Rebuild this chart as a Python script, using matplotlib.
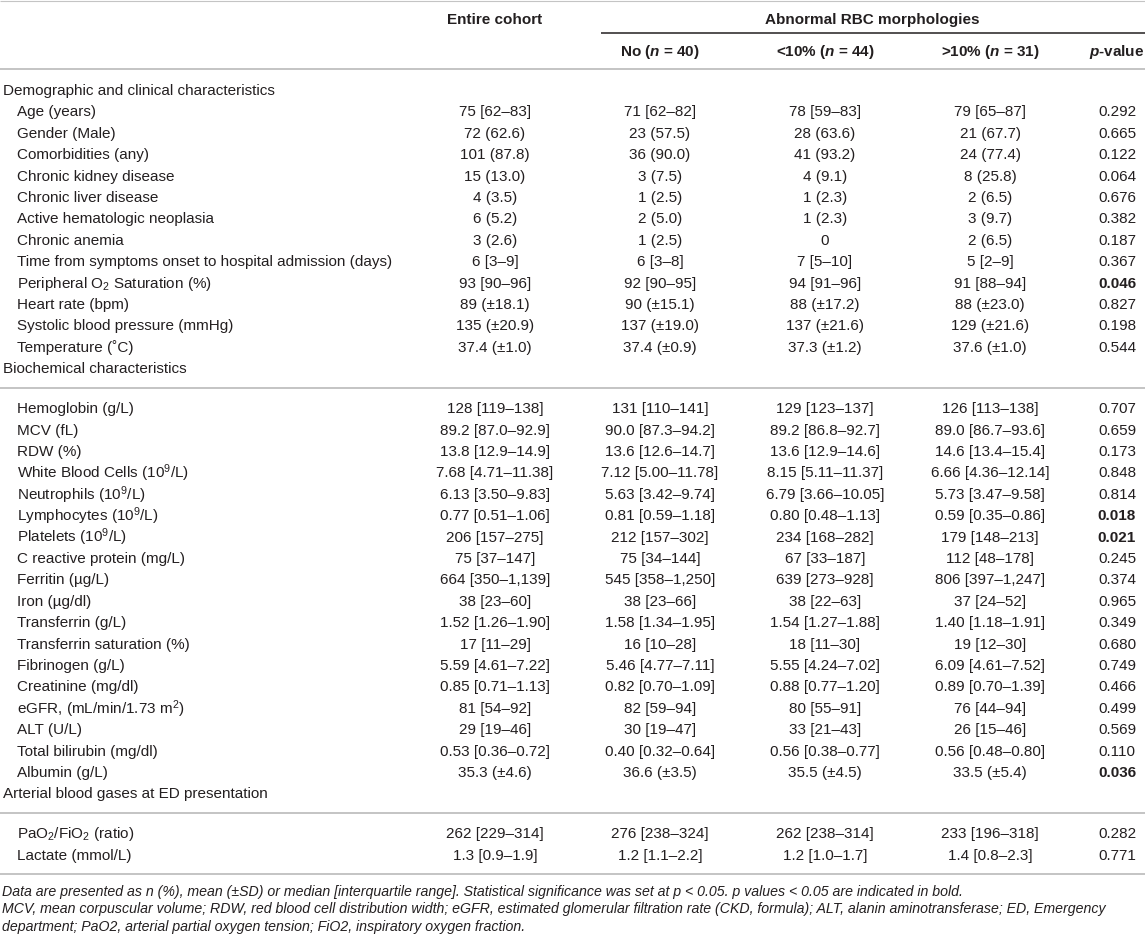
import matplotlib
matplotlib.use("Agg")
import matplotlib.pyplot as plt

plt.rcParams['font.family'] = ['Liberation Sans', 'DejaVu Sans']
plt.rcParams['mathtext.fontset'] = 'custom'
plt.rcParams['mathtext.rm'] = 'Liberation Sans'
plt.rcParams['mathtext.it'] = 'Liberation Sans:italic'
plt.rcParams['mathtext.bf'] = 'Liberation Sans:bold'
try:
    plt.rcParams['mathtext.bfit'] = 'Liberation Sans:bold:italic'
    BFIT = r'\mathbfit'
except KeyError:
    BFIT = r'\mathbf'

# ---------------- data ----------------
col_headers = ["No ($" + BFIT + "{n}$ = 40)", "<10% ($" + BFIT + "{n}$ = 44)",
               ">10% ($" + BFIT + "{n}$ = 31)", "$" + BFIT + "{p}$-value"]
group_header = "Abnormal RBC morphologies"
cohort_header = "Entire cohort"

section_titles = ["Demographic and clinical characteristics",
                  "Biochemical characteristics",
                  "Arterial blood gases at ED presentation"]

demo_labels = ["Age (years)", "Gender (Male)", "Comorbidities (any)", "Chronic kidney disease",
               "Chronic liver disease", "Active hematologic neoplasia", "Chronic anemia",
               "Time from symptoms onset to hospital admission (days)",
               "Peripheral O$_2$ Saturation (%)", "Heart rate (bpm)",
               "Systolic blood pressure (mmHg)", "Temperature (\u02daC)"]
demo_entire = ["75 [62\u201383]", "72 (62.6)", "101 (87.8)", "15 (13.0)", "4 (3.5)", "6 (5.2)",
               "3 (2.6)", "6 [3\u20139]", "93 [90\u201396]", "89 (\u00b118.1)", "135 (\u00b120.9)",
               "37.4 (\u00b11.0)"]
demo_no = ["71 [62\u201382]", "23 (57.5)", "36 (90.0)", "3 (7.5)", "1 (2.5)", "2 (5.0)", "1 (2.5)",
           "6 [3\u20138]", "92 [90\u201395]", "90 (\u00b115.1)", "137 (\u00b119.0)", "37.4 (\u00b10.9)"]
demo_lt10 = ["78 [59\u201383]", "28 (63.6)", "41 (93.2)", "4 (9.1)", "1 (2.3)", "1 (2.3)", "0",
             "7 [5\u201310]", "94 [91\u201396]", "88 (\u00b117.2)", "137 (\u00b121.6)", "37.3 (\u00b11.2)"]
demo_gt10 = ["79 [65\u201387]", "21 (67.7)", "24 (77.4)", "8 (25.8)", "2 (6.5)", "3 (9.7)",
             "2 (6.5)", "5 [2\u20139]", "91 [88\u201394]", "88 (\u00b123.0)", "129 (\u00b121.6)",
             "37.6 (\u00b11.0)"]
demo_p = ["0.292", "0.665", "0.122", "0.064", "0.676", "0.382", "0.187", "0.367", "0.046",
          "0.827", "0.198", "0.544"]

bio_labels = ["Hemoglobin (g/L)", "MCV (fL)", "RDW (%)", "White Blood Cells (10$^9$/L)",
              "Neutrophils (10$^9$/L)", "Lymphocytes (10$^9$/L)", "Platelets (10$^9$/L)",
              "C reactive protein (mg/L)", "Ferritin (\u00b5g/L)", "Iron (\u00b5g/dl)",
              "Transferrin (g/L)", "Transferrin saturation (%)", "Fibrinogen (g/L)",
              "Creatinine (mg/dl)", "eGFR, (mL/min/1.73 m$^2$)", "ALT (U/L)",
              "Total bilirubin (mg/dl)", "Albumin (g/L)"]
bio_entire = ["128 [119\u2013138]", "89.2 [87.0\u201392.9]", "13.8 [12.9\u201314.9]",
              "7.68 [4.71\u201311.38]", "6.13 [3.50\u20139.83]", "0.77 [0.51\u20131.06]",
              "206 [157\u2013275]", "75 [37\u2013147]", "664 [350\u20131,139]", "38 [23\u201360]",
              "1.52 [1.26\u20131.90]", "17 [11\u201329]", "5.59 [4.61\u20137.22]",
              "0.85 [0.71\u20131.13]", "81 [54\u201392]", "29 [19\u201346]",
              "0.53 [0.36\u20130.72]", "35.3 (\u00b14.6)"]
bio_no = ["131 [110\u2013141]", "90.0 [87.3\u201394.2]", "13.6 [12.6\u201314.7]",
          "7.12 [5.00\u201311.78]", "5.63 [3.42\u20139.74]", "0.81 [0.59\u20131.18]",
          "212 [157\u2013302]", "75 [34\u2013144]", "545 [358\u20131,250]", "38 [23\u201366]",
          "1.58 [1.34\u20131.95]", "16 [10\u201328]", "5.46 [4.77\u20137.11]",
          "0.82 [0.70\u20131.09]", "82 [59\u201394]", "30 [19\u201347]",
          "0.40 [0.32\u20130.64]", "36.6 (\u00b13.5)"]
bio_lt10 = ["129 [123\u2013137]", "89.2 [86.8\u201392.7]", "13.6 [12.9\u201314.6]",
            "8.15 [5.11\u201311.37]", "6.79 [3.66\u201310.05]", "0.80 [0.48\u20131.13]",
            "234 [168\u2013282]", "67 [33\u2013187]", "639 [273\u2013928]", "38 [22\u201363]",
            "1.54 [1.27\u20131.88]", "18 [11\u201330]", "5.55 [4.24\u20137.02]",
            "0.88 [0.77\u20131.20]", "80 [55\u201391]", "33 [21\u201343]",
            "0.56 [0.38\u20130.77]", "35.5 (\u00b14.5)"]
bio_gt10 = ["126 [113\u2013138]", "89.0 [86.7\u201393.6]", "14.6 [13.4\u201315.4]",
            "6.66 [4.36\u201312.14]", "5.73 [3.47\u20139.58]", "0.59 [0.35\u20130.86]",
            "179 [148\u2013213]", "112 [48\u2013178]", "806 [397\u20131,247]", "37 [24\u201352]",
            "1.40 [1.18\u20131.91]", "19 [12\u201330]", "6.09 [4.61\u20137.52]",
            "0.89 [0.70\u20131.39]", "76 [44\u201394]", "26 [15\u201346]",
            "0.56 [0.48\u20130.80]", "33.5 (\u00b15.4)"]
bio_p = ["0.707", "0.659", "0.173", "0.848", "0.814", "0.018", "0.021", "0.245", "0.374",
         "0.965", "0.349", "0.680", "0.749", "0.466", "0.499", "0.569", "0.110", "0.036"]

abg_labels = ["PaO$_2$/FiO$_2$ (ratio)", "Lactate (mmol/L)"]
abg_entire = ["262 [229\u2013314]", "1.3 [0.9\u20131.9]"]
abg_no = ["276 [238\u2013324]", "1.2 [1.1\u20132.2]"]
abg_lt10 = ["262 [238\u2013314]", "1.2 [1.0\u20131.7]"]
abg_gt10 = ["233 [196\u2013318]", "1.4 [0.8\u20132.3]"]
abg_p = ["0.282", "0.771"]

footnotes = [
    "Data are presented as n (%), mean (\u00b1SD) or median [interquartile range]. Statistical significance was set at p < 0.05. p values < 0.05 are indicated in bold.",
    "MCV, mean corpuscular volume; RDW, red blood cell distribution width; eGFR, estimated glomerular filtration rate (CKD, formula); ALT, alanin aminotransferase; ED, Emergency",
    "department; PaO2, arterial partial oxygen tension; FiO2, inspiratory oxygen fraction.",
]

# ---------------- layout ----------------
W, H = 1145, 938
fig = plt.figure(figsize=(W / 100, H / 100), dpi=100)
ax = fig.add_axes([0, 0, 1, 1])
ax.set_xlim(0, W)
ax.set_ylim(H, 0)
ax.axis('off')

TXT = '#231f20'
GRAY = '#c4c4c4'
FS = 11.0
x_sec, x_item = 3, 17
col_x = [495, 660, 825, 990, 1117]
row_h = 21.4

def hline(y, x0=0, x1=W, color=GRAY, lw=1.4):
    ax.plot([x0, x1], [y, y], color=color, lw=lw, solid_capstyle='butt')

# header
hline(1.0, lw=0.8)
ax.text(col_x[0], 20, cohort_header, ha='center', va='center', fontsize=FS, fontweight='bold', color=TXT)
ax.text(872, 20, group_header, ha='center', va='center', fontsize=FS, fontweight='bold', color=TXT)
hline(33, x0=601, x1=W, color='#231f20', lw=1.1)
for x, h in zip(col_x[1:], col_headers):
    ax.text(x, 52, h, ha='center', va='center', fontsize=FS, fontweight='bold', color=TXT)
hline(69)

sections = [
    (section_titles[0], False, demo_labels, [demo_entire, demo_no, demo_lt10, demo_gt10], demo_p),
    (section_titles[1], True, bio_labels, [bio_entire, bio_no, bio_lt10, bio_gt10], bio_p),
    (section_titles[2], True, abg_labels, [abg_entire, abg_no, abg_lt10, abg_gt10], abg_p),
]

y = 91.0
for title, has_line, labels, cols, pvals in sections:
    ax.text(x_sec, y, title, ha='left', va='center', fontsize=FS, color=TXT)
    if has_line:
        hline(y + 18.5)
        y += 40.0
    else:
        y += row_h
    for i, lab in enumerate(labels):
        ax.text(x_item, y, lab, ha='left', va='center', fontsize=FS, color=TXT)
        for x, c in zip(col_x[:4], cols):
            ax.text(x, y, c[i], ha='center', va='center', fontsize=FS, color=TXT)
        bold = float(pvals[i]) < 0.05
        ax.text(col_x[4], y, pvals[i], ha='center', va='center', fontsize=FS, color=TXT,
                fontweight='bold' if bold else 'normal')
        y += row_h

y_bottom = y - row_h + 18.5
hline(y_bottom)

fy = y_bottom + 17.5
for f in footnotes:
    ax.text(2, fy, f, ha='left', va='center', fontsize=10.15, style='italic', color=TXT)
    fy += 17.5

fig.savefig('out.png', dpi=100, facecolor='white')
